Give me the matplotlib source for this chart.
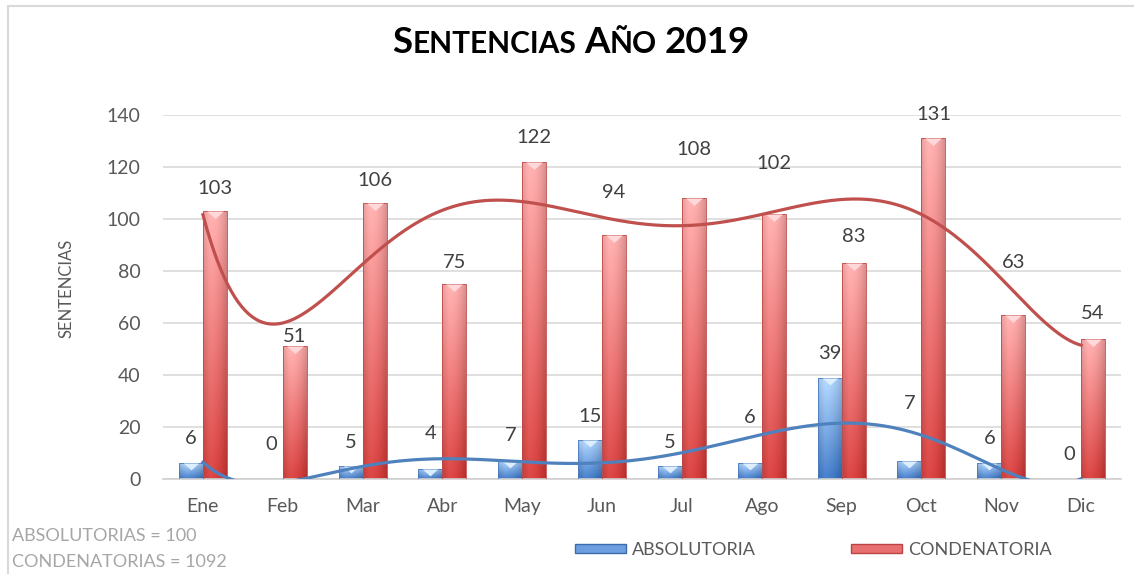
import numpy as np
import matplotlib
matplotlib.use("Agg")
import matplotlib.pyplot as plt
from matplotlib.patches import Patch, Rectangle

plt.rcParams['font.family'] = ['Lato', 'DejaVu Sans']

# datos del grafico
meses = ['Ene', 'Feb', 'Mar', 'Abr', 'May', 'Jun', 'Jul', 'Ago', 'Sep', 'Oct', 'Nov', 'Dic']
absolutoria = [6, 0, 5, 4, 7, 15, 5, 6, 39, 7, 6, 0]
condenatoria = [103, 51, 106, 75, 122, 94, 108, 102, 83, 131, 63, 54]
total_abs = 100
total_con = 1092

# separacion de cada etiqueta sobre su barra, en px (movidas a mano en el original)
off_abs = [25, 35, 23, 35, 25, 24, 23, 46, 24, 57, 25, 25]
off_con = [23, 10, 23, 22, 24, 42, 49, 50, 27, 24, 53, 25]

W, H = 1134, 574
fig = plt.figure(figsize=(W / 100, H / 100), dpi=100)
fig.patches.append(Rectangle((8 / W, -0.1), 1.2, 1.1 - 6 / H, transform=fig.transFigure,
                             fill=False, edgecolor='#d9d9d9', lw=1.5))

ax = fig.add_axes([163 / W, 95 / H, 958 / W, 364 / H])
x = np.arange(len(meses))
bw = 0.3
b_abs = ax.bar(x - bw / 2, absolutoria, bw, facecolor='none', edgecolor='#4a7bbf', lw=0.6, zorder=3)
b_con = ax.bar(x + bw / 2, condenatoria, bw, facecolor='none', edgecolor='#bf4a47', lw=0.6, zorder=3)


def degradado(bars, top, bot):
    top = np.array(matplotlib.colors.to_rgb(top))
    bot = np.array(matplotlib.colors.to_rgb(bot))
    t = np.linspace(0, 1, 128)[:, None, None]
    u = np.linspace(-1, 1, 32)[None, :, None]
    img = bot + (top - bot) * t
    img = img * (1 - 0.10 * u ** 2) + 0.06 * (1 - np.abs(u + 0.4))
    img = np.clip(img, 0, 1)
    for b in bars:
        h = b.get_height()
        if h <= 0:
            continue
        x0 = b.get_x()
        im = ax.imshow(img, extent=[x0, x0 + b.get_width(), 0, h], origin='lower',
                       aspect='auto', zorder=2, interpolation='bilinear')
        im.set_clip_path(b)


degradado(b_abs, '#acd0f7', '#3a73c0')
degradado(b_con, '#f8a8a8', '#d03a38')

# bisel claro en la parte de arriba de cada barra
chev = [(-1, 0), (1, 0), (0, -0.9)]
va = np.array(absolutoria, dtype=float)
ax.plot(x[va > 0] - bw / 2, va[va > 0], ls='none', marker=chev, ms=11, mew=0,
        color='#ddeeff', zorder=4)
ax.plot(x + bw / 2, condenatoria, ls='none', marker=chev, ms=12, mew=0,
        color='#ffd9d9', zorder=4)

# lineas de tendencia (polinomica de orden 6, como en Excel)
xf = np.linspace(0, len(meses) - 1, 500)
ax.plot(xf, np.polyval(np.polyfit(x, condenatoria, 6), xf), color='#c0504d', lw=2.3, zorder=5)
ax.plot(xf, np.polyval(np.polyfit(x, absolutoria, 6), xf), color='#4f81bd', lw=2.3, zorder=5)

for i in range(len(meses)):
    ax.annotate(str(absolutoria[i]), (x[i] - bw / 2, absolutoria[i]), xytext=(0, off_abs[i] * 0.72),
                textcoords='offset points', ha='center', va='center', fontsize=14.5, color='#404040', zorder=6)
    ax.annotate(str(condenatoria[i]), (x[i] + bw / 2, condenatoria[i]), xytext=(0, off_con[i] * 0.72),
                textcoords='offset points', ha='center', va='center', fontsize=14.5, color='#404040', zorder=6)

ax.set_xlim(-0.5, len(meses) - 0.5)
ax.set_ylim(0, 140)
ax.set_yticks(range(0, 141, 20))
ax.set_xticks(x)
ax.set_xticklabels(meses)
ax.yaxis.grid(True, color='#d9d9d9', lw=1.2, zorder=0)
ax.set_axisbelow(True)
for s in ['top', 'right', 'left']:
    ax.spines[s].set_visible(False)
ax.spines['bottom'].set_color('#d0d0d0')
ax.spines['bottom'].set_linewidth(1.2)
ax.tick_params(axis='y', length=0, pad=16, labelsize=14, labelcolor='#595959')
ax.tick_params(axis='x', length=0, pad=14, labelsize=14, labelcolor='#595959')

fig.text(66 / W, 1 - 288 / H, 'SENTENCIAS', rotation=90, ha='center', va='center',
         fontsize=12, color='#595959')

fig.text(12 / W, 1 - 536 / H, 'ABSOLUTORIAS = %d' % total_abs, ha='left', va='center',
         fontsize=13, color='#a6a6a6')
fig.text(12 / W, 1 - 562 / H, 'CONDENATORIAS = %d' % total_con, ha='left', va='center',
         fontsize=13, color='#a6a6a6')

fig.legend(handles=[Patch(facecolor='#6d9fe0', edgecolor='#3d6cab'),
                    Patch(facecolor='#e87070', edgecolor='#b94441')],
           labels=['ABSOLUTORIA', 'CONDENATORIA'], loc='center left',
           bbox_to_anchor=(575 / W, 24 / H), ncol=2, frameon=False,
           handlelength=2.8, handleheight=0.45, handletextpad=0.35, columnspacing=5.3,
           borderpad=0, borderaxespad=0, fontsize=13, labelcolor='#595959')

# titulo en versalitas
titulo = [[('S', 26.5), ('ENTENCIAS', 21.5)], [('A', 26.5), ('ÑO', 21.5)], [('2019', 26.5)]]
r = fig.canvas.get_renderer()
objs = []
for palabra in titulo:
    fila = []
    for txt, tam in palabra:
        fila.append(fig.text(0, 0, txt, fontsize=tam, fontweight='bold', color='black',
                             ha='left', va='baseline'))
    objs.append(fila)
ancho = lambda t: t.get_window_extent(r).width
gap = 8
total = sum(ancho(t) for fila in objs for t in fila) + gap * (len(objs) - 1)
xp = 571 - total / 2
for fila in objs:
    for t in fila:
        t.set_position((xp / W, 1 - 53 / H))
        xp += ancho(t)
    xp += gap

fig.savefig('out.png', dpi=100)
